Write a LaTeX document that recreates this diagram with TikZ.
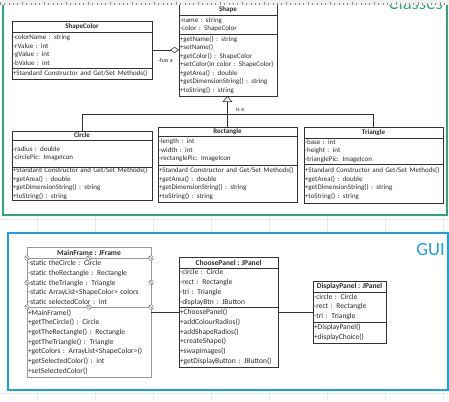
\documentclass[tikz,border=0pt]{standalone}
\usepackage{fontspec}
\setmainfont{Carlito}
\usepackage{tikz}
\usetikzlibrary{
  arrows.meta,
  positioning,
  backgrounds
}
\definecolor{classgreen}{HTML}{2AA876}
\definecolor{guiblue}{HTML}{1BA1E2}
\definecolor{umlline}{HTML}{333333}
\definecolor{umltext}{HTML}{2A2A2A}
\newcommand{\umlfont}{\fontsize{7}{8.5}\selectfont}
\newcommand{\guifont}{\fontsize{7.5}{9.7}\selectfont}

\begin{document}
\begin{tikzpicture}[
      x=1pt,y=1pt,
      umlbox/.style={
         rectangle,
         draw=umlline,
         line width=0.6pt,
         fill=white,
         outer sep=0pt,
         inner xsep=1pt,
         inner ysep=0.8pt,
         anchor=north west,
         text=umltext
      },
      umlname/.style={umlbox, font=\umlfont\bfseries, minimum width=#1pt},
      umlpart/.style={umlbox, font=\umlfont, align=left, text width=#1pt},
      guiname/.style={umlbox, font=\guifont\bfseries, minimum width=#1pt},
      guipart/.style={umlbox, font=\guifont, align=left, text width=#1pt},
      selected/.style={draw=black!40},
      link/.style={draw=umlline, line width=0.6pt},
      isa/.style={link, -{Triangle[open,length=6pt,width=10pt]}},
      hasa/.style={link, -{Diamond[open,length=9pt,width=6pt]}},
      linklabel/.style={font=\fontsize{6}{6}\selectfont, text=umltext, inner sep=0pt},
      handle/.style={draw=black!55, fill=white, line width=0.4pt},
      gridline/.style={draw=black!8, line width=0.5pt},
      frame/.style={fill=white, line width=1.3pt}
    ]
    \useasboundingbox (0,0) rectangle (449,-401);
    \clip (0,0) rectangle (449,-401);

    % sheet grid behind the frames
    \foreach \x in {37,95,...,443}
       \draw[gridline] (\x,0) -- (\x,-401);
    \foreach \y in {219,393}
       \draw[gridline] (0,-\y) -- (449,-\y);

    % frames
    \draw[frame, draw=classgreen] (3,8) rectangle (447,-215);
    \draw[frame, draw=guiblue] (8,-233) rectangle (448,-390);
    \node (classes) [anchor=base east, font=\fontsize{18.6}{20}\selectfont,
       text=classgreen, inner sep=0pt] at (443,-10) {Classes};
    \node (gui) [anchor=base east, font=\fontsize{18.6}{20}\selectfont,
       text=guiblue, inner sep=0pt] at (445,-255) {GUI};

    % classes
    \node (shapecolor) [umlname=140, minimum height=11] at (12,-21) {ShapeColor};
    \node (shapecolor-a) [umlpart=138, minimum height=36, below=0pt of shapecolor]
       {-colorName : string\\-rValue : int\\-gValue : int\\-bValue : int};
    \node (shapecolor-o) [umlpart=138, minimum height=11, below=0pt of shapecolor-a]
       {+Standard Constructor and Get/Set Methods()};

    \node (shape) [umlname=98, minimum height=11] at (179,-4) {Shape};
    \node (shape-a) [umlpart=96, minimum height=19, below=0pt of shape]
       {-name : string\\-color : ShapeColor};
    \node (shape-o) [umlpart=96, minimum height=62, below=0pt of shape-a]
       {+getName() : string\\+setName()\\+getColor() : ShapeColor\\
        +setColor(in color : ShapeColor)\\+getArea() : double\\
        +getDimensionString() : string\\+toString() : string};

    \node (circle) [umlname=140, minimum height=9] at (12,-131) {Circle};
    \node (circle-a) [umlpart=138, minimum height=27, below=0pt of circle]
       {-radius : double\\-circlePic: ImageIcon};
    \node (circle-o) [umlpart=138, minimum height=31, below=0pt of circle-a]
       {+Standard Constructor and Get/Set Methods()\\+getArea() : double\\
        +getDimensionString() : string\\+toString() : string};

    \node (rect) [umlname=139, minimum height=9] at (158,-127) {Rectangle};
    \node (rect-a) [umlpart=137, minimum height=29, below=0pt of rect]
       {-length : int\\-width : int\\-rectanglePic: ImageIcon};
    \node (rect-o) [umlpart=137, minimum height=37, below=0pt of rect-a]
       {+Standard Constructor and Get/Set Methods()\\+getArea() : double\\
        +getDimensionString() : string\\+toString() : string};

    \node (tri) [umlname=139, minimum height=11] at (304,-127) {Triangle};
    \node (tri-a) [umlpart=137, minimum height=26, below=0pt of tri]
       {-base : int\\-height : int\\-trianglePic: ImageIcon};
    \node (tri-o) [umlpart=137, minimum height=39, below=0pt of tri-a]
       {+Standard Constructor and Get/Set Methods()\\+getArea() : double\\
        +getDimensionString() : string\\+toString() : string};

    % has a / is a
    \draw[hasa] (shapecolor-a.east) -- (shapecolor-a.east -| shape-o.west)
       node (hasa-label) [linklabel, midway, below=8pt] {-has a};
    \coordinate (isa-bar) at (0,-114);
    \draw[link] (circle.north) |- (isa-bar -| tri.north) -- (tri.north);
    \draw[isa] (rect.north) -- (rect.north |- shape-o.south);
    \node (isa-label) [linklabel] at (240,-109) {is a};

    % gui
    \node (mainframe) [guiname=124, minimum height=11, selected] at (27,-247) {MainFrame : JFrame};
    \node (mainframe-a) [guipart=122, minimum height=49, selected, below=0pt of mainframe]
       {-static theCircle : Circle\\-static theRectangle : Rectangle\\
        -static theTriangle : Triangle\\-static ArrayList<ShapeColor> colors\\
        -static selectedColor : int};
    \node (mainframe-o) [guipart=122, minimum height=70, selected, below=0pt of mainframe-a]
       {+MainFrame()\\+getTheCircle() : Circle\\+getTheRectangle() : Rectangle\\
        +getTheTriangle() : Triangle\\+getColors : ArrayList<ShapeColor>()\\
        +getSelectedColor() : int\\+setSelectedColor()};

    \node (choose) [guiname=99, minimum height=11] at (179,-257) {ChoosePanel : JPanel};
    \node (choose-a) [guipart=97, minimum height=39, below=0pt of choose]
       {-circle : Circle\\-rect : Rectangle\\-tri : Triangle\\-displayBtn : JButton};
    \node (choose-o) [guipart=97, minimum height=60, below=0pt of choose-a]
       {+ChoosePanel()\\+addColourRadios()\\+addShapeRadios()\\+createShape()\\
        +swapImages()\\+getDisplayButton : JButton()};

    \node (display) [guiname=73, minimum height=11] at (313,-281) {DisplayPanel : JPanel};
    \node (display-a) [guipart=71, minimum height=30, below=0pt of display]
       {-circle : Circle\\-rect : Rectangle\\-tri : Triangle};
    \node (display-o) [guipart=71, minimum height=21, below=0pt of display-a]
       {+DisplayPanel()\\+displayChoice()};

    \coordinate (mf-out) at ([yshift=-5pt]mainframe-o.north east);
    \coordinate (cp-out) at ([yshift=-5pt]choose-o.north east);
    \draw[link] (mf-out) -- (mf-out -| choose-o.west);
    \draw[link] (cp-out) -- (cp-out -| display-a.west);

    % selection handles on MainFrame
    \foreach \a in {north west,north,north east,west,east,south west,south,south east}
       \draw[handle] (mainframe-a.\a) circle (2.3)
          ([shift={(-1.6,1.6)}]mainframe-a.\a) -- ([shift={(1.6,-1.6)}]mainframe-a.\a);

    % ruler on top
    \fill[black!6] (0,0) rectangle (449,-5);
    \foreach \i in {0,...,102} {
       \pgfmathsetmacro\ticklen{mod(\i,5)==0 ? 3 : 1.5}
       \draw[black!45, line width=0.3pt] (\i*4.4,-5) -- ++(0,\ticklen);
    }
\end{tikzpicture}
\end{document}
